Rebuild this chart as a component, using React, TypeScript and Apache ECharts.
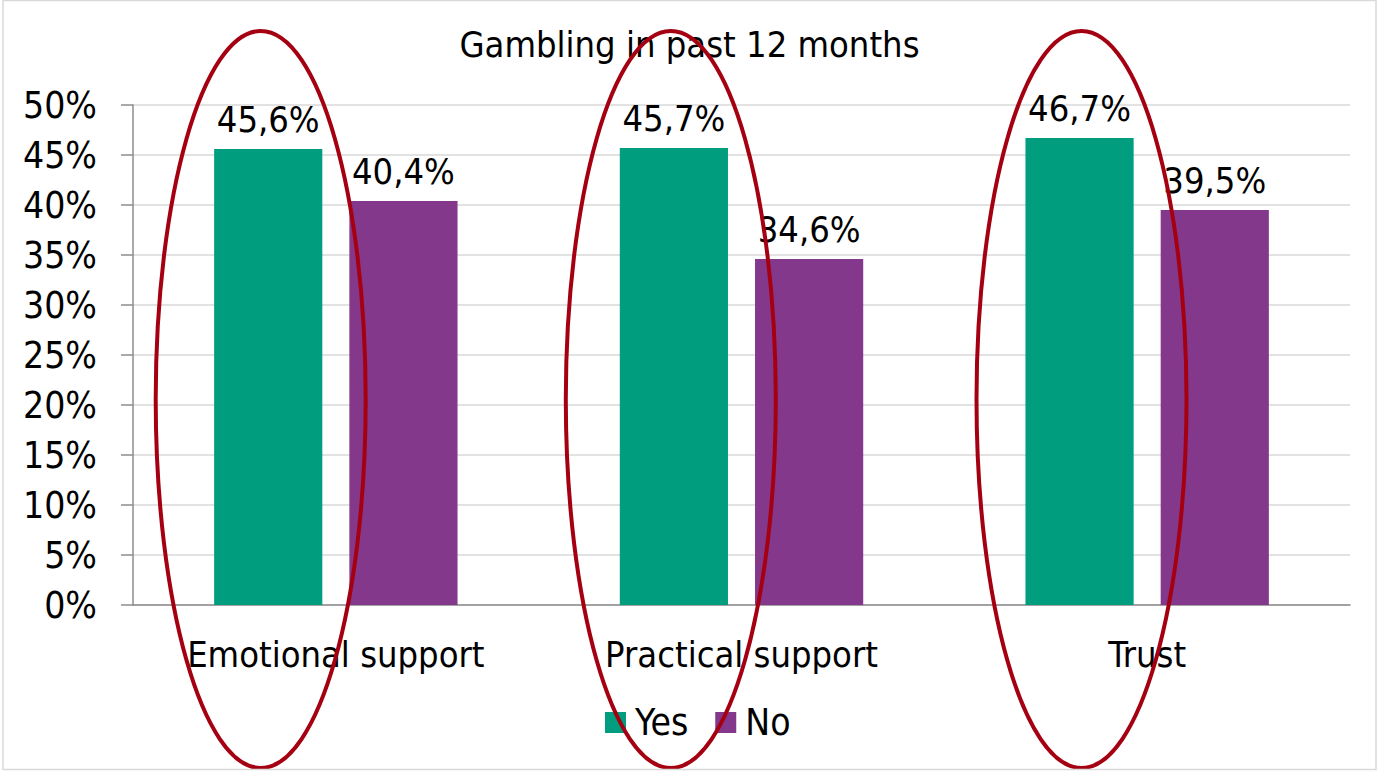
import React, { useEffect, useRef } from "react";
import * as echarts from "echarts";

const categories = ["Emotional support", "Practical support", "Trust"];
const yesValues = [45.6, 45.7, 46.7];
const noValues = [40.4, 34.6, 39.5];
const seriesNames = ["Yes", "No"];
const titleText = "Gambling in past 12 months";
const yTicks = { min: 0, max: 50, interval: 5 };

const FONT = '"DejaVu Sans Condensed", "DejaVu Sans", Tahoma, sans-serif';

export default function App() {
  const ref = useRef<HTMLDivElement>(null);
  useEffect(() => {
    if (!ref.current) return;
    const chart = echarts.init(ref.current, null, { renderer: "svg" });
    const fmt = (v: number) => v.toFixed(1).replace(".", ",") + "%";
    const ellipses = [260.7, 670.8, 1081.5].map((cx) => ({
      type: "ellipse",
      z: 100,
      silent: true,
      shape: { cx, cy: 399.5, rx: 105, ry: 368.5 },
      style: { fill: "none", stroke: "#A50012", lineWidth: 4 },
    }));
    const labelStyle = {
      show: true,
      position: "top",
      distance: 12,
      fontFamily: FONT,
      fontSize: 36,
      color: "#000",
      formatter: (p: any) => fmt(p.value),
    };
    chart.setOption({
      animation: false,
      backgroundColor: "#ffffff",
      textStyle: { fontFamily: FONT, color: "#000" },
      title: {
        text: titleText,
        left: "center",
        top: 21,
        textStyle: { fontFamily: FONT, fontSize: 36, fontWeight: "normal", color: "#000" },
      },
      legend: {
        left: 600,
        top: 699,
        icon: "rect",
        itemWidth: 21,
        itemHeight: 21,
        itemGap: 27,
        data: seriesNames,
        textStyle: { fontFamily: FONT, fontSize: 37, color: "#000", padding: [0, 0, 0, 4] },
      },
      grid: { left: 133, right: 29, top: 105, bottom: 167, containLabel: false },
      xAxis: {
        type: "category",
        data: categories,
        axisLine: { show: true, lineStyle: { color: "#8c8c8c", width: 1.5 } },
        axisTick: { show: false },
        axisLabel: { fontFamily: FONT, fontSize: 36, color: "#000", margin: 31 },
      },
      yAxis: {
        type: "value",
        min: yTicks.min,
        max: yTicks.max,
        interval: yTicks.interval,
        axisLine: { show: true, lineStyle: { color: "#8c8c8c", width: 1.5 } },
        axisTick: { show: true, length: 12, lineStyle: { color: "#8c8c8c", width: 1.5 } },
        splitLine: { show: true, lineStyle: { color: "#d9d9d9", width: 1.5 } },
        axisLabel: {
          fontFamily: FONT,
          fontSize: 37,
          color: "#000",
          margin: 36,
          formatter: (v: number) => v + "%",
        },
      },
      series: [
        {
          name: seriesNames[0],
          type: "bar",
          data: yesValues,
          barGap: "25%",
          barCategoryGap: "40%",
          itemStyle: { color: "#009E7E" },
          label: labelStyle,
        },
        {
          name: seriesNames[1],
          type: "bar",
          data: noValues,
          barGap: "25%",
          barCategoryGap: "40%",
          itemStyle: { color: "#84388B" },
          label: labelStyle,
        },
      ],
      graphic: [
        {
          type: "rect",
          z: 101,
          silent: true,
          shape: { x: 3, y: 0.5, width: 1373, height: 769 },
          style: { fill: "none", stroke: "#d9d9d9", lineWidth: 1.5 },
        },
        ...ellipses,
      ],
    });
    return () => chart.dispose();
  }, []);
  return (
    <div
      ref={ref}
      style={{ position: "fixed", left: 0, top: 0, width: 1379, height: 772 }}
    />
  );
}
